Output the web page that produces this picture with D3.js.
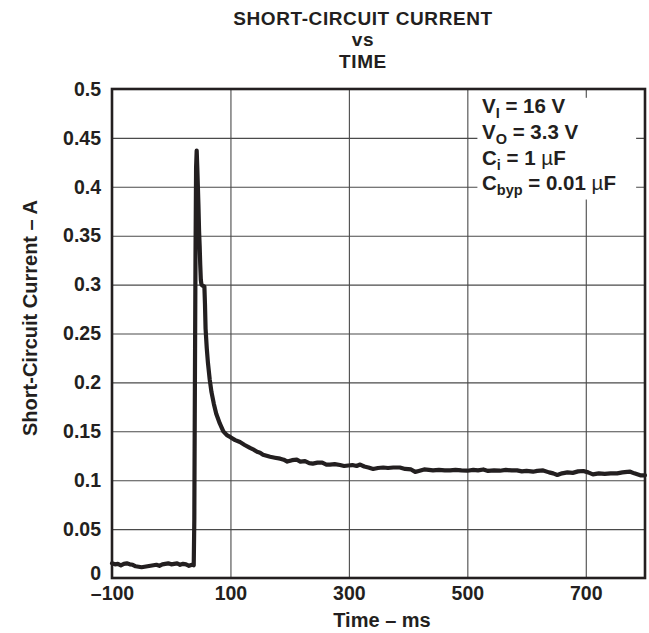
<!DOCTYPE html>
<html>
<head>
<meta charset="utf-8">
<script src="https://cdn.jsdelivr.net/npm/d3@7"></script>
<style>
  body { margin: 0; background: #fff; }
  svg { font-family: "Liberation Sans", Arial, sans-serif; font-weight: bold; }
  .tick text { font-size: 19.5px; font-weight: bold; fill: #231f20; }
  .grid line { stroke: #4a4a4a; stroke-width: 1.1; }
</style>
</head>
<body>
<div id="chart"></div>
<script>
// time in ms
const timeMs = [
  -100, -95, -90, -85, -80, -75, -70, -65, -60, -55, -50, -45, -40, -35, -30, -25, -20, -15, -10, -5,
  0, 5, 10, 15, 20, 25, 30, 35, 38,
  39, 40, 41, 42, 43,
  44, 45, 46, 47, 48, 49, 50, 51, 53, 56, 57, 58, 60, 62, 65, 68, 72, 76, 82, 88, 94,
  100, 108, 116, 124, 133, 140, 145, 150, 155, 161, 167, 175, 184, 190, 196,
  204, 212, 218, 226, 233, 239, 247, 255, 262, 268, 276, 285, 292, 299,
  306, 313, 319, 326, 333, 341, 349, 358, 366, 375, 386, 395,
  405, 412, 418, 427, 435, 442, 452, 462, 471, 480, 490, 500,
  510, 518, 527, 535, 545, 555, 565, 575, 584, 592, 600,
  611, 618, 628, 638, 645, 652, 660, 669, 678, 687, 696,
  704, 712, 722, 732, 742, 753, 762, 770, 775, 782, 792, 800
];
// short-circuit current in A
const currentA = [
  0.015, 0.014, 0.0145, 0.013, 0.0145, 0.015, 0.014, 0.0135, 0.012, 0.0115, 0.011, 0.0115, 0.012, 0.0125, 0.013, 0.0135, 0.0125, 0.014, 0.0145, 0.015,
  0.014, 0.0145, 0.015, 0.0135, 0.0145, 0.014, 0.0125, 0.0135, 0.013,
  0.06, 0.2, 0.33, 0.42, 0.437,
  0.42, 0.40, 0.38, 0.355, 0.34, 0.32, 0.305, 0.30, 0.299, 0.298, 0.28, 0.255, 0.235, 0.22, 0.203, 0.19, 0.178, 0.168, 0.158, 0.150, 0.146,
  0.144, 0.141, 0.139, 0.136, 0.133, 0.131, 0.129, 0.128, 0.126, 0.125, 0.124, 0.123, 0.122, 0.121, 0.119,
  0.1205, 0.121, 0.119, 0.1195, 0.1175, 0.117, 0.118, 0.118, 0.116, 0.116, 0.1165, 0.1155, 0.1145, 0.115,
  0.1155, 0.1145, 0.116, 0.114, 0.113, 0.1115, 0.1125, 0.113, 0.1125, 0.113, 0.113, 0.1115,
  0.111, 0.1085, 0.1095, 0.111, 0.1105, 0.110, 0.1105, 0.110, 0.110, 0.1105, 0.110, 0.1097,
  0.1105, 0.110, 0.111, 0.1095, 0.110, 0.1097, 0.1105, 0.110, 0.110, 0.109, 0.1095,
  0.1087, 0.1095, 0.110, 0.108, 0.107, 0.1053, 0.107, 0.108, 0.1075, 0.109, 0.1094,
  0.108, 0.106, 0.107, 0.1065, 0.107, 0.107, 0.108, 0.1085, 0.1087, 0.107, 0.105, 0.105
];
const xTicks = [-100, 100, 300, 500, 700];
const xGrid = [100, 300, 500, 700];
const yTicks = [0, 0.05, 0.1, 0.15, 0.2, 0.25, 0.3, 0.35, 0.4, 0.45, 0.5];
const titleLines = ["SHORT-CIRCUIT CURRENT", "vs", "TIME"];

const config = {
  width: 649, height: 633,
  margin: { top: 89, right: 4, bottom: 55, left: 112 }
};
const width = config.width - config.margin.left - config.margin.right;
const height = config.height - config.margin.top - config.margin.bottom;

const svg = d3.select("#chart").append("svg")
  .attr("width", config.width)
  .attr("height", config.height);

const chart = svg.append("g")
  .attr("transform", `translate(${config.margin.left},${config.margin.top})`);

const xScale = d3.scaleLinear().domain([-100, 800]).range([0, width]);
const yScale = d3.scaleLinear().domain([0, 0.5]).range([height, 0]);

// gridlines
chart.append("g").attr("class", "grid")
  .attr("transform", `translate(0,${height})`)
  .call(d3.axisBottom(xScale).tickValues(xGrid).tickSize(-height).tickFormat(""))
  .call(g => g.select(".domain").remove());
chart.append("g").attr("class", "grid")
  .call(d3.axisLeft(yScale).tickValues(yTicks.slice(1, -1)).tickSize(-width).tickFormat(""))
  .call(g => g.select(".domain").remove());

// tick labels
chart.append("g")
  .attr("transform", `translate(0,${height})`)
  .call(d3.axisBottom(xScale).tickValues(xTicks).tickSize(0).tickPadding(8)
    .tickFormat(d => d < 0 ? "\u2013" + Math.abs(d) : d))
  .call(g => g.select(".domain").remove());
chart.append("g")
  .call(d3.axisLeft(yScale).tickValues(yTicks).tickSize(0).tickPadding(11)
    .tickFormat(d => d3.format("")(+d.toFixed(2))))
  .call(g => g.select(".domain").remove())
  .call(g => g.selectAll(".tick").filter(d => d === 0).select("text").attr("y", -5));

// legend box hides the grid behind it
chart.append("rect")
  .attr("x", xScale(517)).attr("y", yScale(0.491))
  .attr("width", xScale(785) - xScale(517)).attr("height", yScale(0.387) - yScale(0.491))
  .attr("fill", "#fff");

// data line
const line = d3.line()
  .x((d, i) => xScale(timeMs[i]))
  .y(d => yScale(d));
chart.append("path")
  .datum(currentA)
  .attr("fill", "none")
  .attr("stroke", "#231f20")
  .attr("stroke-width", 4.2)
  .attr("stroke-linejoin", "round")
  .attr("stroke-linecap", "round")
  .attr("d", line);

// border
chart.append("rect")
  .attr("width", width).attr("height", height)
  .attr("fill", "none").attr("stroke", "#231f20").attr("stroke-width", 2.6);

// legend text
const legend = [
  { main: "V", sub: "I", rest: " = 16 V" },
  { main: "V", sub: "O", rest: " = 3.3 V" },
  { main: "C", sub: "i", rest: " = 1 ", mu: true },
  { main: "C", sub: "byp", rest: " = 0.01 ", mu: true }
];
const legendY = [113, 139, 165, 190];
legend.forEach((l, i) => {
  const t = chart.append("text")
    .attr("x", 482 - config.margin.left)
    .attr("y", legendY[i] - config.margin.top)
    .attr("fill", "#231f20")
    .style("font-size", "20.5px");
  t.append("tspan").text(l.main);
  t.append("tspan").attr("dy", 5).style("font-size", "14.5px").text(l.sub);
  t.append("tspan").attr("dy", -5).text(l.rest);
  if (l.mu) {
    t.append("tspan").style("font-weight", "normal").text("\u00b5");
    t.append("tspan").text("F");
  }
});

// title
const titleY = [24.5, 46, 67.5];
titleLines.forEach((s, i) => {
  svg.append("text")
    .attr("x", 363)
    .attr("y", titleY[i])
    .attr("text-anchor", "middle")
    .attr("fill", "#231f20")
    .style("font-size", "19px")
    .style("letter-spacing", "0.6px")
    .text(s);
});

// axis titles
svg.append("text")
  .attr("x", 382)
  .attr("y", 627)
  .attr("text-anchor", "middle")
  .attr("fill", "#231f20")
  .style("font-size", "20px")
  .text("Time \u2013 ms");

svg.append("text")
  .attr("transform", `translate(37,318) rotate(-90)`)
  .attr("text-anchor", "middle")
  .attr("fill", "#231f20")
  .style("font-size", "20px")
  .text("Short-Circuit Current \u2013 A");
</script>
</body>
</html>
